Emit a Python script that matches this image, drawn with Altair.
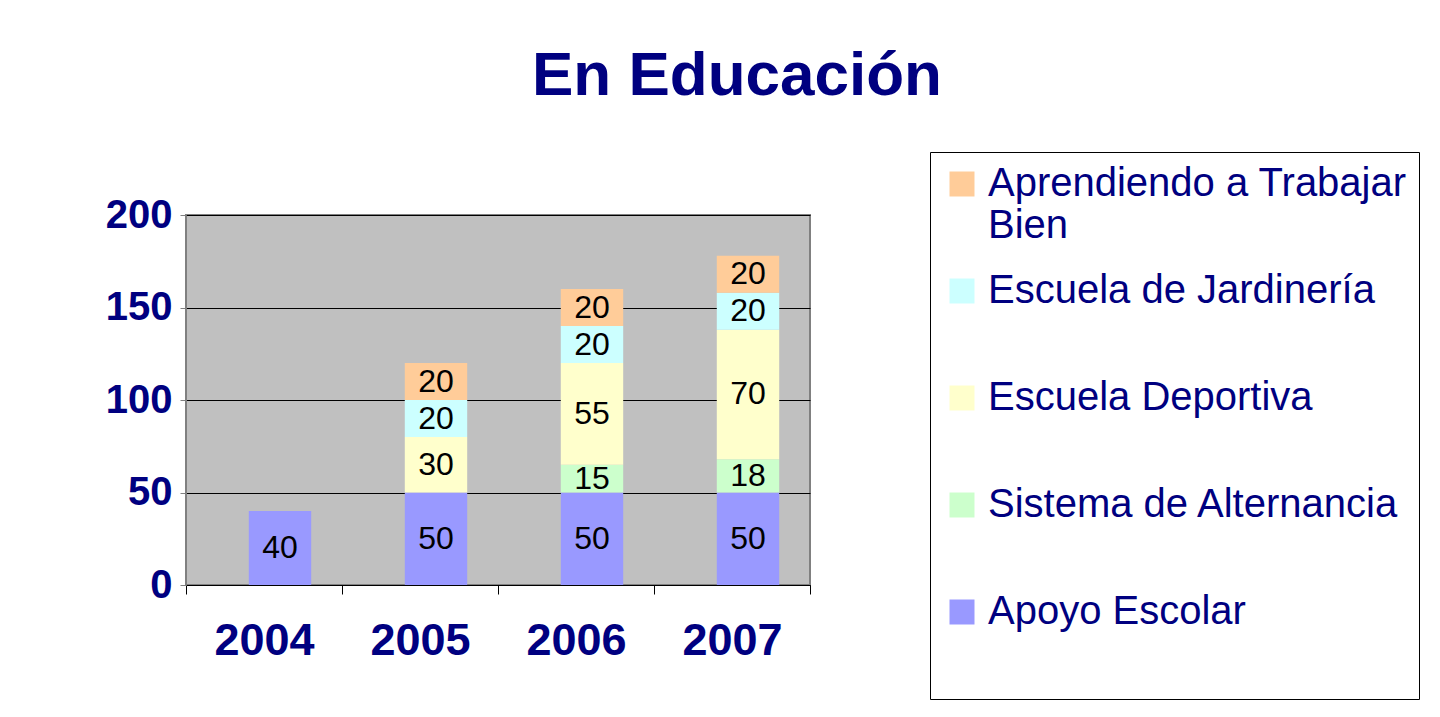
import altair as alt
import pandas as pd

years = ["2004", "2005", "2006", "2007"]
series = ["Apoyo Escolar", "Sistema de Alternancia", "Escuela Deportiva",
          "Escuela de Jardinería", "Aprendiendo a Trabajar Bien"]
apoyo = [40, 50, 50, 50]
sistema = [0, 0, 15, 18]
deportiva = [0, 30, 55, 70]
jardineria = [0, 20, 20, 20]
aprendiendo = [0, 20, 20, 20]
colors = ["#9999FF", "#CCFFCC", "#FFFFCC", "#CCFFFF", "#FFCC99"]
y_ticks = [0, 50, 100, 150, 200]

rows = []
for si, (name, vals) in enumerate(zip(series, [apoyo, sistema, deportiva, jardineria, aprendiendo])):
    for yr, v in zip(years, vals):
        if v > 0:
            rows.append({"year": yr, "series": name, "value": v, "idx": si})
df = pd.DataFrame(rows)

navy = "#000080"
font = "Liberation Sans"
legend_order = series[::-1]
legend_colors = colors[::-1]

base = alt.Chart(df).transform_stack(
    stack="value", groupby=["year"], as_=["y0", "y1"],
    sort=[alt.SortField("idx", order="ascending")]
).transform_calculate(mid="(datum.y0 + datum.y1) / 2")

x_scale = alt.Scale(paddingInner=0, paddingOuter=0)
x_enc = alt.X("year:N", sort=years, scale=x_scale,
              axis=alt.Axis(title=None, labelAngle=0, labelFontSize=45, labelFontWeight="bold",
                            labelColor=navy, labelFont=font, tickBand="extent", tickSize=9,
                            tickColor="black", domainColor="black", labelPadding=24, grid=False))

y_scale = alt.Scale(domain=[0, 200], nice=False)

first_label = "datum.label == 'Aprendiendo a Trabajar Bien'"
legend = alt.Legend(
    title=" ", titleOrient="bottom", titleFontSize=34, titlePadding=21,
    orient="none", legendX=744, legendY=-63, padding=12,
    strokeColor="black", fillColor="white",
    symbolType="square", symbolSize=625, symbolStrokeWidth=0,
    labelFontSize=40, labelColor=navy, labelFont=font, labelLimit=700, labelOffset=6,
    rowPadding=25, gridAlign="all",
    labelExpr=first_label + " ? ['Aprendiendo a Trabajar', 'Bien'] : datum.label",
)

bars = base.mark_bar(width=alt.RelativeBandSize(0.4), xOffset=16).encode(
    x=x_enc,
    y=alt.Y("y0:Q", scale=y_scale,
            axis=alt.Axis(title=None, values=y_ticks, labelFontSize=40, labelFontWeight="bold",
                          labelColor=navy, labelFont=font, tickSize=6, labelPadding=8,
                          tickColor="#808080", domainColor="#808080",
                          grid=True, gridColor="black", gridWidth=1)),
    y2="y1:Q",
    color=alt.Color("series:N", scale=alt.Scale(domain=legend_order, range=legend_colors),
                    legend=legend),
)

labels = base.mark_text(fontSize=32, font=font, color="black", dx=16).encode(
    x=alt.X("year:N", sort=years, scale=x_scale),
    y=alt.Y("mid:Q", scale=y_scale),
    text="value:Q",
)

chart = alt.layer(bars, labels).properties(
    width=624, height=370,
    title=alt.TitleParams("En Educación", fontSize=62, font=font, fontWeight="bold", color=navy,
                          anchor="middle", dx=239, dy=25, offset=20, baseline="alphabetic"),
    autosize=alt.AutoSizeParams(type="none"),
    padding={"left": 178, "top": 207, "right": 622, "bottom": 123},
).configure_view(fill="#C0C0C0", stroke="#808080", strokeWidth=2)

chart.save("out.html", embed_options={"renderer": "svg", "actions": False})
